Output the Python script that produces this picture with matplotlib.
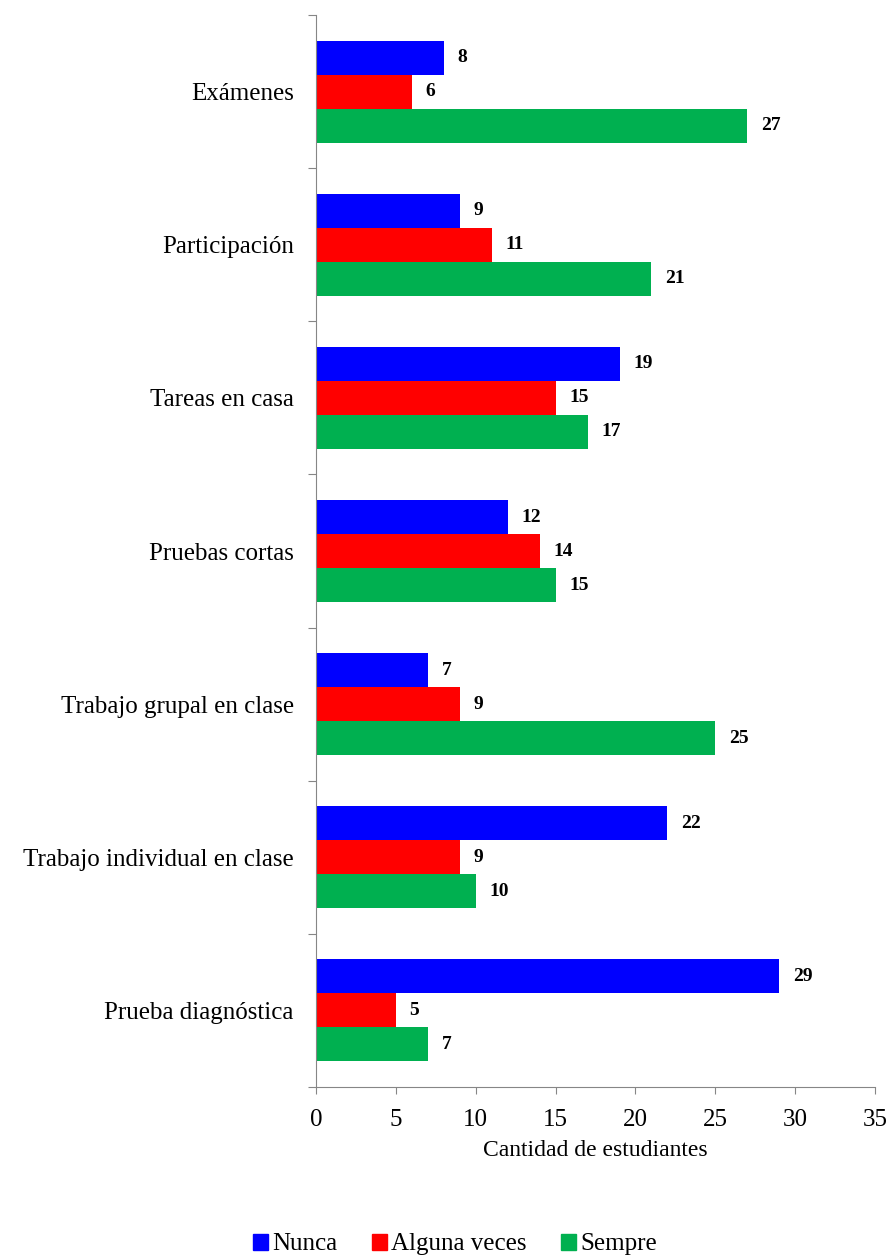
import numpy as np
import matplotlib.pyplot as plt
from matplotlib.patches import Patch

plt.rcParams['font.family'] = ['Liberation Serif', 'DejaVu Serif']

# Data (top to bottom as in the chart)
categories = ['Exámenes', 'Participación', 'Tareas en casa', 'Pruebas cortas',
              'Trabajo grupal en clase', 'Trabajo individual en clase', 'Prueba diagnóstica']
nunca = [8, 9, 19, 12, 7, 22, 29]
alguna = [6, 11, 15, 14, 9, 9, 5]
siempre = [27, 21, 17, 15, 25, 10, 7]
series_names = ['Nunca', 'Alguna veces', 'Sempre']
colors = ['#0000FF', '#FF0000', '#00B050']

fig = plt.figure(figsize=(8.92, 12.57), dpi=100)
ax = fig.add_axes([0.3543, 0.1352, 0.6267, 0.8528])

n = len(categories)
y = np.arange(n)[::-1]  # first category at top
h = 0.222

for k, (vals, col) in enumerate(zip([nunca, alguna, siempre], colors)):
    pos = y + h - k * h
    ax.barh(pos, vals, height=h, color=col, edgecolor='none')
    for p, v in zip(pos, vals):
        ax.text(v + 0.85, p, str(v), va='center', ha='left', fontsize=14, fontweight='bold')

ax.set_ylim(-0.5, n - 0.5)
ax.set_xlim(0, 35)
ax.set_xticks(range(0, 36, 5))
ax.tick_params(axis='x', labelsize=18, length=5, color='#868686', pad=11)

ax.set_yticks(np.arange(-0.5, n, 1.0))
ax.set_yticklabels([])
ax.set_yticks(y, minor=True)
ax.set_yticklabels(categories, minor=True, fontsize=18)
ax.tick_params(axis='y', which='major', length=6, color='#868686')
ax.tick_params(axis='y', which='minor', length=0, pad=16)

for s in ['top', 'right']:
    ax.spines[s].set_visible(False)
for s in ['left', 'bottom']:
    ax.spines[s].set_color('#868686')

ax.set_xlabel('Cantidad de estudiantes', fontsize=17, labelpad=6)

handles = [Patch(color=c, label=l) for c, l in zip(colors, series_names)]
fig.legend(handles=handles, loc='center', bbox_to_anchor=(0.51, 0.01), ncol=3,
           frameon=False, fontsize=18, handlelength=0.6, handleheight=0.6,
           handletextpad=0.15, columnspacing=1.4)

fig.savefig('out.png', dpi=100)
